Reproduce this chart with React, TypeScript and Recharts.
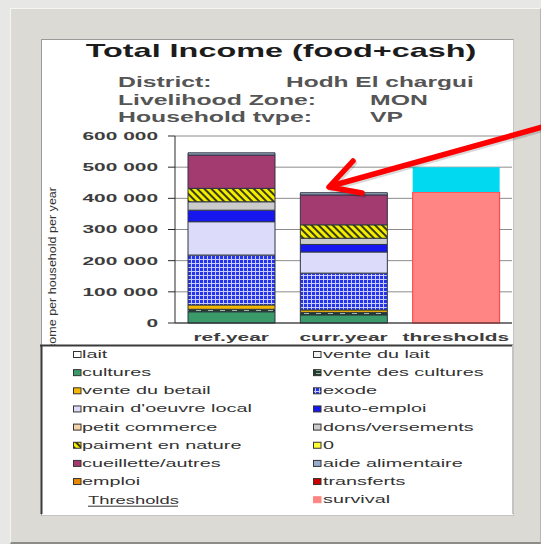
import React from "react";
import { BarChart, Bar, XAxis, YAxis, CartesianGrid } from "recharts";

const FONT = '"Liberation Sans", Arial, sans-serif';

// categories and axis
const categories = ["ref.year", "curr.year", "thresholds"];
const yTicks = [0, 100000, 200000, 300000, 400000, 500000, 600000];

// income sources (stacked bottom -> top), one value per category
const lait = [0, 0, 0];
const venteDuLait = [0, 0, 0];
const cultures = [36000, 26000, 0];
const venteDesCultures = [8000, 8000, 0];
const venteDuBetail = [14000, 8000, 0];
const exode = [160000, 118000, 0];
const mainDoeuvre = [107000, 68000, 0];
const autoEmploi = [37000, 24000, 0];
const petitCommerce = [0, 0, 0];
const dons = [27000, 20000, 0];
const paiment = [43000, 43000, 0];
const zero = [0, 0, 0];
const cueillette = [107000, 96000, 0];
const aide = [7000, 7000, 0];
const emploi = [0, 0, 0];
const transferts = [0, 0, 0];

// thresholds
const survival = [0, 0, 420000];
const livelihood = [0, 0, 80000];

const incomeSeries = [
  { key: "lait", name: "lait", values: lait },
  { key: "venteDuLait", name: "vente du lait", values: venteDuLait },
  { key: "cultures", name: "cultures", values: cultures },
  { key: "venteDesCultures", name: "vente des cultures", values: venteDesCultures },
  { key: "venteDuBetail", name: "vente du betail", values: venteDuBetail },
  { key: "exode", name: "exode", values: exode },
  { key: "mainDoeuvre", name: "main d'oeuvre local", values: mainDoeuvre },
  { key: "autoEmploi", name: "auto-emploi", values: autoEmploi },
  { key: "petitCommerce", name: "petit commerce", values: petitCommerce },
  { key: "dons", name: "dons/versements", values: dons },
  { key: "paiment", name: "paiment en nature", values: paiment },
  { key: "zero", name: "0", values: zero },
  { key: "cueillette", name: "cueillette/autres", values: cueillette },
  { key: "aide", name: "aide alimentaire", values: aide },
  { key: "emploi", name: "emploi", values: emploi },
  { key: "transferts", name: "transferts", values: transferts },
];

const thresholdSeries = [
  { key: "survival", name: "survival", values: survival },
  { key: "livelihood", name: "livelihood protection", values: livelihood },
];

const fills: Record<string, string> = {
  lait: "#ffffff",
  venteDuLait: "#f2f2f2",
  cultures: "#3a9a6a",
  venteDesCultures: "url(#pVenteCult)",
  venteDuBetail: "#f4b800",
  exode: "url(#pExode)",
  mainDoeuvre: "#dcdcfa",
  autoEmploi: "#1616ee",
  petitCommerce: "#f6d2a8",
  dons: "#cbcbcb",
  paiment: "url(#pPaiment)",
  zero: "#ffff33",
  cueillette: "#a33b70",
  aide: "#9aaccc",
  emploi: "#e88a00",
  transferts: "#cc0000",
  survival: "#ff8585",
  livelihood: "#00d9ef",
};

const rows = categories.map((cat, i) => {
  const r: Record<string, any> = { cat };
  [...incomeSeries, ...thresholdSeries].forEach((s) => {
    r[s.key] = s.values[i];
  });
  return r;
});

const fmt = (v: number) => (v === 0 ? "0" : `${v / 1000} 000`);

function YTick(props: any) {
  const { x, y, payload } = props;
  return (
    <text
      transform={`translate(${x},${y}) scale(1.9,1)`}
      textAnchor="end"
      dy="0.36em"
      fontSize={11}
      fontWeight="bold"
      fontFamily={FONT}
      fill="#3d3d3d"
    >
      {fmt(payload.value)}
    </text>
  );
}

function XTick(props: any) {
  const { x, y, payload } = props;
  return (
    <text
      transform={`translate(${x},${y + 17.5}) scale(1.9,1)`}
      textAnchor="middle"
      fontSize={11}
      fontWeight="bold"
      fontFamily={FONT}
      fill="#3d3d3d"
    >
      {payload.value}
    </text>
  );
}

function Stretched({ x, y, size, bold, fill, anchor, k, children }: any) {
  return (
    <text
      transform={`translate(${x},${y}) scale(${k ?? 1.8},1)`}
      textAnchor={anchor ?? "start"}
      fontSize={size}
      fontWeight={bold ? "bold" : "normal"}
      fontFamily={FONT}
      fill={fill}
    >
      {children}
    </text>
  );
}

export default function App() {
  const legendLeft = incomeSeries.filter((_, i) => i % 2 === 0);
  const legendRight = [...incomeSeries.filter((_, i) => i % 2 === 1), thresholdSeries[0]];
  const rowY = (i: number) => 354.5 + i * 18.15;

  return (
    <div style={{ position: "absolute", left: 0, top: 0, width: 541, height: 544, background: "#e7e7e5", overflow: "hidden" }}>
      {/* frame */}
      <div
        style={{
          position: "absolute",
          left: 10,
          top: 8,
          width: 529,
          height: 533,
          background: "#dbdad5",
          borderTop: "1px solid #f5f5f3",
          borderLeft: "1px solid #f5f5f3",
          borderRight: "1px solid #b5b5b1",
          borderBottom: "2px solid #8c8c88",
        }}
      />
      <div
        style={{
          position: "absolute",
          left: 41,
          top: 39,
          width: 471,
          height: 475,
          background: "#ffffff",
          borderTop: "1px solid #9a9a9a",
          borderLeft: "1px solid #9a9a9a",
          borderRight: "1px solid #c4c4c4",
          borderBottom: "1px solid #c4c4c4",
        }}
      />

      <div style={{ position: "absolute", left: 0, top: 0 }}>
        <BarChart
          width={541}
          height={544}
          data={rows}
          margin={{ top: 136, right: 29, bottom: 201, left: 115 }}
          barSize={87}
        >
          <defs>
            <pattern id="pExode" width="4" height="4" patternUnits="userSpaceOnUse">
              <rect width="4" height="4" fill="#2434e6" />
              <rect x="3" width="1" height="4" fill="#c8ccff" />
              <rect y="3" width="4" height="1" fill="#c8ccff" />
            </pattern>
            <pattern id="pPaiment" width="5" height="5" patternUnits="userSpaceOnUse" patternTransform="rotate(-45)">
              <rect width="5" height="5" fill="#f4ef00" />
              <rect width="2" height="5" fill="#3b3a12" />
            </pattern>
            <pattern id="pVenteCult" width="12" height="3" patternUnits="userSpaceOnUse">
              <rect width="12" height="3" fill="#1f3d2c" />
              <rect x="4" y="1" width="5" height="1" fill="#a3b8aa" />
            </pattern>
          </defs>
          <CartesianGrid vertical={false} stroke="#8c8c8c" />
          <XAxis
            dataKey="cat"
            height={20}
            interval={0}
            tickSize={0}
            tickMargin={0}
            tickLine={false}
            axisLine={{ stroke: "#2a2a2a" }}
            tick={<XTick />}
          />
          <YAxis
            width={60}
            domain={[0, 600000]}
            ticks={yTicks}
            interval={0}
            tickSize={7}
            tickMargin={10}
            axisLine={{ stroke: "#2a2a2a" }}
            tickLine={{ stroke: "#2a2a2a" }}
            tick={<YTick />}
          />
          <YAxis
            yAxisId="right"
            orientation="right"
            width={0}
            domain={[0, 600000]}
            tick={false}
            tickLine={false}
            axisLine={{ stroke: "#333333", strokeWidth: 2 }}
          />
          {incomeSeries.map((s) => (
            <Bar
              key={s.key}
              dataKey={s.key}
              name={s.name}
              stackId="a"
              fill={fills[s.key]}
              stroke="#2e3642"
              strokeWidth={1}
              isAnimationActive={false}
            />
          ))}
          <Bar dataKey="survival" name="survival" stackId="a" fill={fills.survival} stroke="#ff3b3b" strokeWidth={1} isAnimationActive={false} />
          <Bar dataKey="livelihood" name="livelihood protection" stackId="a" fill={fills.livelihood} isAnimationActive={false} />
        </BarChart>
      </div>

      <svg width={541} height={544} style={{ position: "absolute", left: 0, top: 0, pointerEvents: "none" }}>
        {/* titles */}
        <Stretched x={281} y={57} size={18} bold fill="#1c1c1c" anchor="middle" k={1.8}>
          Total Income (food+cash)
        </Stretched>
        <Stretched x={118} y={86.7} size={14} bold fill="#555555" k={1.77}>District:</Stretched>
        <Stretched x={286} y={86.7} size={14} bold fill="#555555" k={1.75}>Hodh El chargui</Stretched>
        <Stretched x={118} y={105} size={14} bold fill="#555555" k={1.77}>Livelihood Zone:</Stretched>
        <Stretched x={370} y={105} size={14} bold fill="#555555" k={1.77}>MON</Stretched>
        <Stretched x={118} y={121.7} size={14} bold fill="#555555" k={1.77}>Household tvpe:</Stretched>
        <Stretched x={370} y={121.7} size={14} bold fill="#555555" k={1.77}>VP</Stretched>

        {/* y axis title (partly hidden by the legend box) */}
        <text
          transform="translate(55.5,187) rotate(-90) scale(1.255,1)"
          textAnchor="end"
          fontSize={10}
          fontFamily={FONT}
          fill="#333333"
        >
          Income per household per year
        </text>

        {/* legend box */}
        <rect x={41} y={345} width={472} height={169} fill="#ffffff" />
        <line x1={40} y1={345.5} x2={513} y2={345.5} stroke="#3a3a3a" strokeWidth={2} />
        <line x1={41.5} y1={345} x2={41.5} y2={514} stroke="#3a3a3a" strokeWidth={2} />
        <line x1={512.5} y1={345} x2={512.5} y2={514} stroke="#c4c4c4" strokeWidth={1} />

        {legendLeft.map((s, i) => (
          <g key={s.key}>
            <rect x={73.5} y={rowY(i) - 3} width={7.5} height={6} fill={fills[s.key]} stroke="#333333" strokeWidth={1} />
            <Stretched x={82} y={rowY(i) + 3.5} size={11} fill="#333333">{s.name}</Stretched>
          </g>
        ))}
        <Stretched x={88} y={rowY(8) + 4} size={10.5} fill="#333333" k={1.75}>Thresholds</Stretched>
        <line x1={88} y1={rowY(8) + 6.5} x2={178} y2={rowY(8) + 6.5} stroke="#333333" strokeWidth={1} />
        {legendRight.map((s, i) => (
          <g key={s.key}>
            <rect
              x={313.5}
              y={rowY(i) - 3}
              width={7.5}
              height={6}
              fill={fills[s.key]}
              stroke={s.key === "survival" ? "#ff8585" : "#333333"}
              strokeWidth={1}
            />
            <Stretched x={323} y={rowY(i) + 3.5} size={11} fill="#333333">{s.name}</Stretched>
          </g>
        ))}

        {/* red annotation arrow */}
        <g transform="translate(1.5,2)" stroke="rgba(0,0,0,0.15)" strokeWidth={5.5} strokeLinecap="round" strokeLinejoin="round" fill="none">
          <line x1={546} y1={126} x2={331} y2={186} />
          <polyline points="353,161 329,187 362,193" />
        </g>
        <g stroke="#ff0000" strokeWidth={5.5} strokeLinecap="round" strokeLinejoin="round" fill="none">
          <line x1={546} y1={126} x2={331} y2={186} />
          <polyline points="353,161 329,187 362,193" />
        </g>
      </svg>
    </div>
  );
}
